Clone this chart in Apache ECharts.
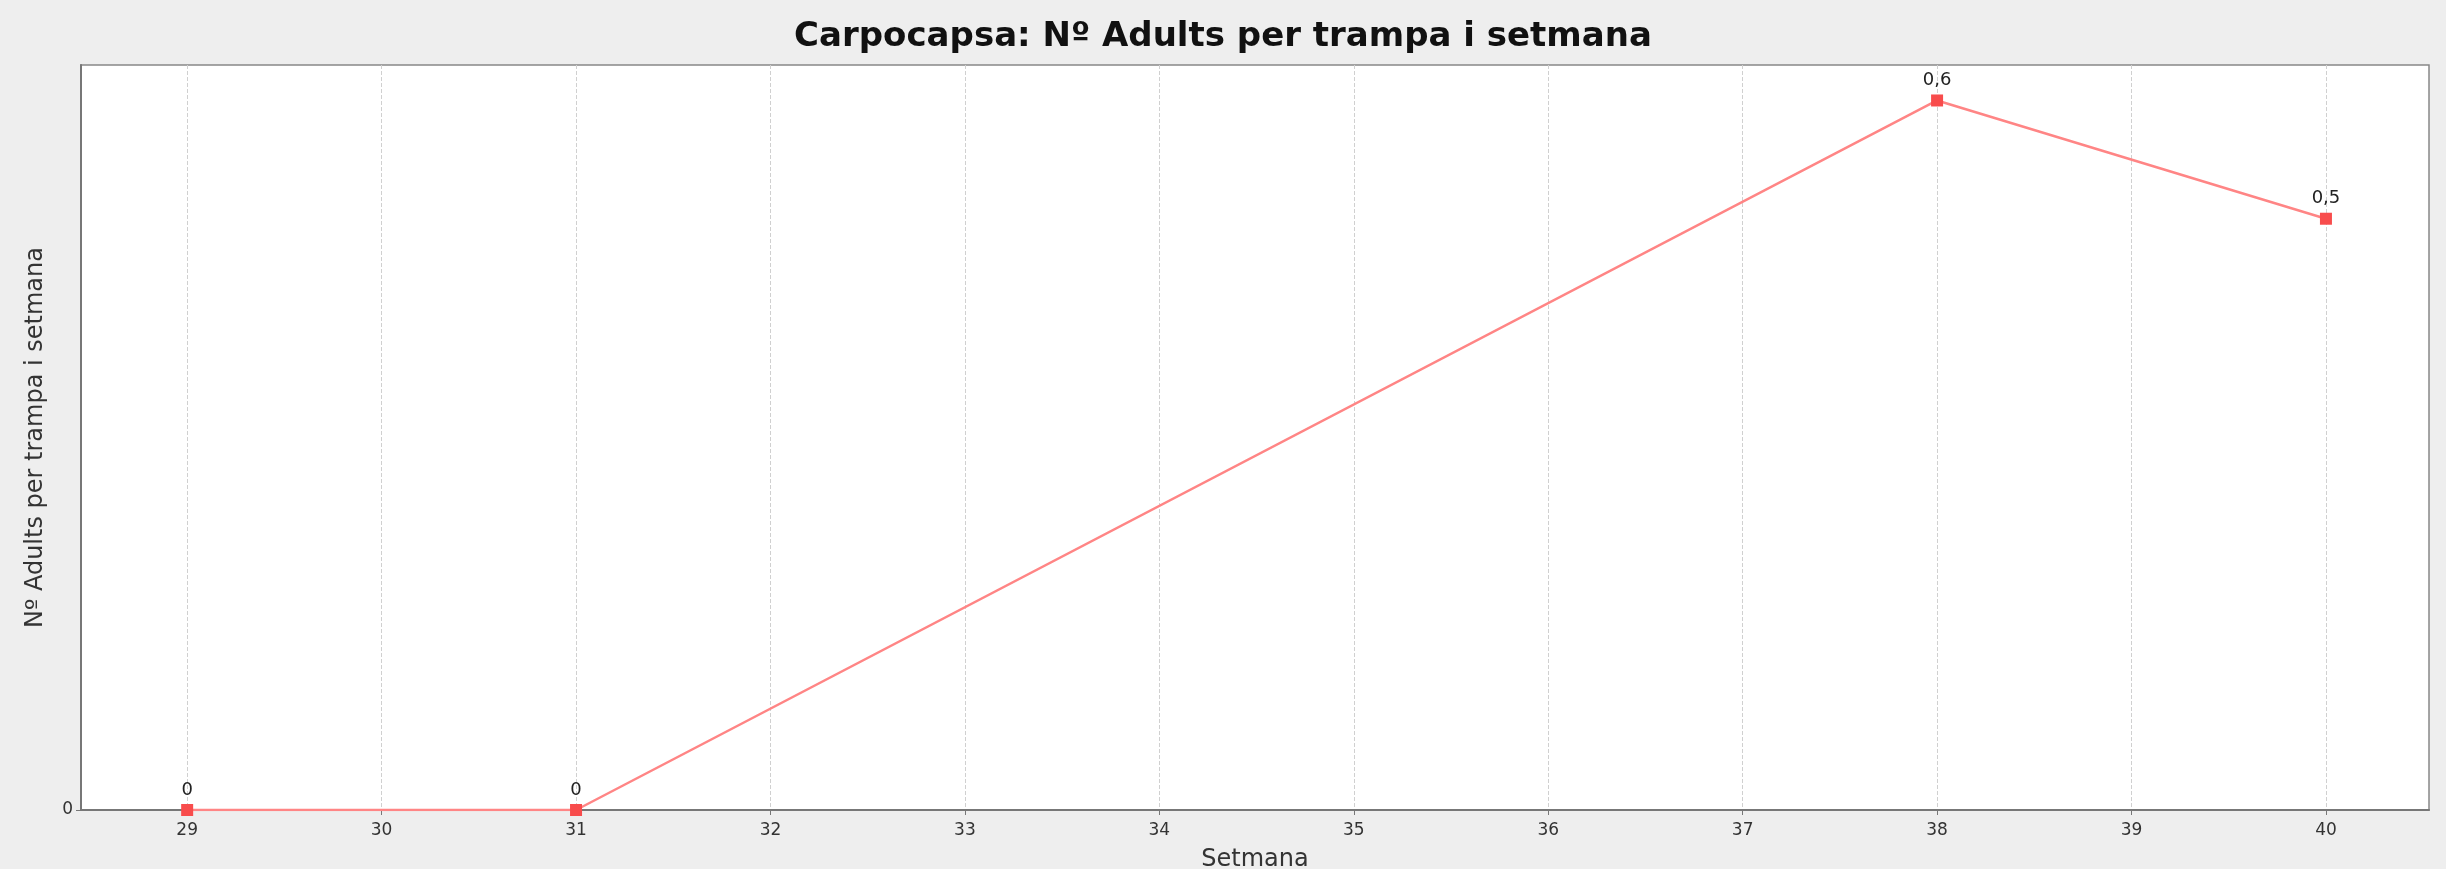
<!DOCTYPE html>
<html>
<head>
<meta charset="utf-8">
<script src="https://cdn.jsdelivr.net/npm/echarts@6/dist/echarts.min.js"></script>
<style>
html,body{margin:0;padding:0;background:#eeeeee;}
#chart{width:2446px;height:869px;}
</style>
</head>
<body>
<div id="chart"></div>
<script>
const titleText = 'Carpocapsa: Nº Adults per trampa i setmana';
const xAxisName = 'Setmana';
const yAxisName = 'Nº Adults per trampa i setmana';
const weekTicks = [29, 30, 31, 32, 33, 34, 35, 36, 37, 38, 39, 40];
const pointWeeks = [29, 31, 38, 40];
const pointValues = [0, 0, 0.6, 0.5];

const chart = echarts.init(document.getElementById('chart'));
chart.setOption({
  backgroundColor: '#eeeeee',
  animation: false,
  title: {
    text: titleText,
    left: 'center',
    top: 15,
    textStyle: {fontFamily: 'DejaVu Sans', fontWeight: 'bold', fontSize: 34, color: '#111'}
  },
  grid: {left: 81, right: 17, top: 65, bottom: 59, show: true, outerBoundsMode: 'none', containLabel: false, backgroundColor: '#ffffff', borderColor: '#888', borderWidth: 1.5},
  xAxis: {
    type: 'value',
    min: 28.454,
    max: 40.53,
    name: xAxisName,
    nameLocation: 'middle',
    nameGap: 38,
    nameTextStyle: {fontFamily: 'DejaVu Sans', fontSize: 24, color: '#333'},
    axisLine: {lineStyle: {color: '#777', width: 2}},
    axisTick: {show: true, length: 5, customValues: weekTicks, lineStyle: {color: '#777'}},
    axisLabel: {fontFamily: 'DejaVu Sans', fontSize: 17, color: '#333', margin: 12, customValues: weekTicks},
    splitLine: {show: true, lineStyle: {color: '#d0d0d0', type: 'dashed', width: 1}}
  },
  yAxis: {
    type: 'value',
    min: 0,
    max: 0.63,
    interval: 1,
    name: yAxisName,
    nameLocation: 'middle',
    nameGap: 33,
    nameTextStyle: {fontFamily: 'DejaVu Sans', fontSize: 24, color: '#333'},
    axisLine: {show: true, lineStyle: {color: '#777', width: 2}},
    axisTick: {show: true, length: 5, lineStyle: {color: '#777'}},
    axisLabel: {fontFamily: 'DejaVu Sans', fontSize: 17, color: '#333', margin: 8, showMaxLabel: false},
    splitLine: {show: false}
  },
  series: [{
    type: 'line',
    data: pointWeeks.map((w, i) => [w, pointValues[i]]),
    symbol: 'rect',
    symbolSize: 12,
    itemStyle: {color: '#f84c4c'},
    lineStyle: {color: '#ff8585', width: 2.5},
    label: {
      show: true,
      position: 'top',
      distance: 5,
      fontFamily: 'DejaVu Sans',
      fontSize: 18,
      color: '#222',
      formatter: p => String(p.value[1]).replace('.', ',')
    }
  }]
});
</script>
</body>
</html>
